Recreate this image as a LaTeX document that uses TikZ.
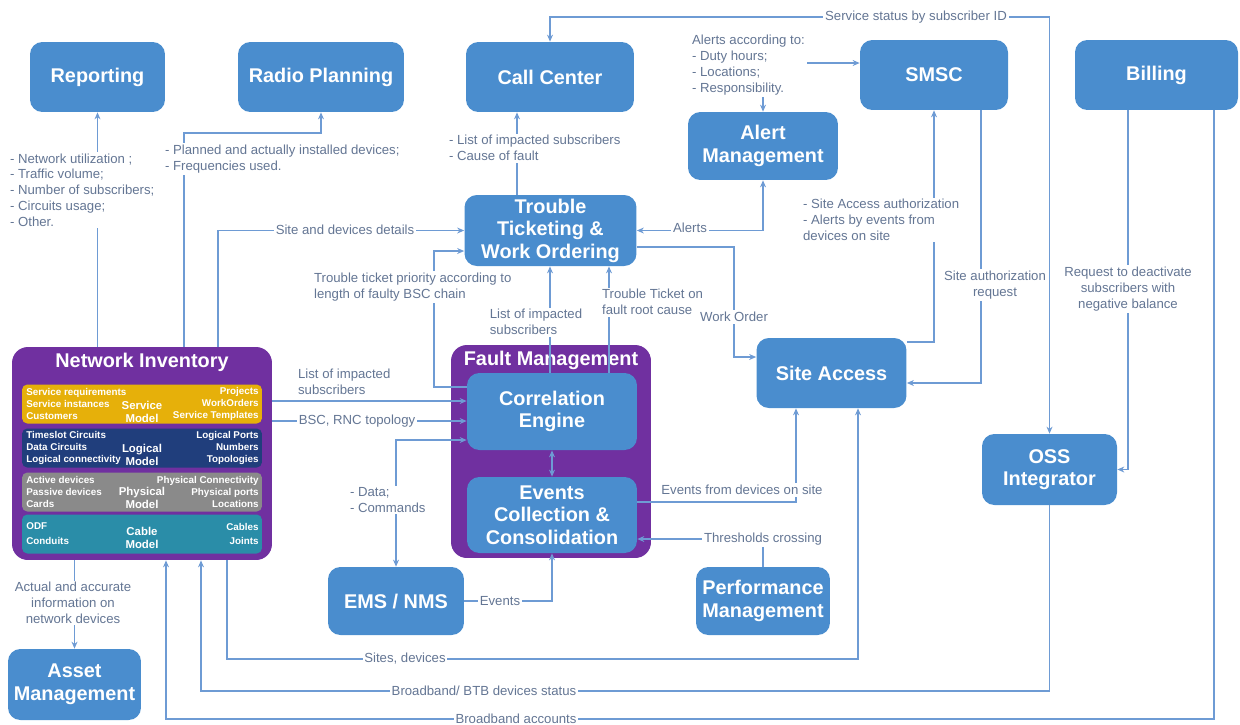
\documentclass[tikz,border=0pt]{standalone}
\usepackage{fontspec}
\setmainfont{Liberation Sans}
\usetikzlibrary{arrows.meta,calc,positioning}

\definecolor{boxblue}{RGB}{74,141,206}
\definecolor{fmpurple}{RGB}{112,48,160}
\definecolor{linec}{RGB}{110,155,212}
\definecolor{labc}{RGB}{100,118,148}
\definecolor{svcyel}{RGB}{230,176,10}
\definecolor{lognavy}{RGB}{32,62,124}
\definecolor{phygray}{RGB}{138,138,138}
\definecolor{cabteal}{RGB}{42,141,168}

\tikzset{
  box/.style={rectangle, rounded corners=7pt, fill=boxblue, text=white, font=\fontsize{11.3}{12.8}\selectfont\bfseries, align=center, inner sep=0pt, minimum height=1.4cm},
  groupbox/.style={rectangle, rounded corners=9pt, fill=fmpurple, inner sep=0pt},
  grouptitle/.style={text=white, font=\fontsize{11.3}{12.8}\selectfont\bfseries, inner sep=0pt},
  nilayer/.style={rectangle, rounded corners=3pt, inner sep=0pt, minimum width=4.8cm, minimum height=0.78cm},
  laytext/.style={text=white, font=\fontsize{5.6}{6.8}\selectfont\bfseries, inner sep=0pt},
  laytitle/.style={text=white, font=\fontsize{6.5}{7.2}\selectfont\bfseries, inner sep=0pt, align=center},
  conn/.style={draw=linec, line width=0.6pt, >={Stealth[length=4pt,width=3.4pt]}},
  lbl/.style={text=labc, font=\fontsize{7.5}{9}\selectfont, inner sep=1pt, align=left},
  lblw/.style={lbl, fill=white},
}

\begin{document}
\begin{tikzpicture}[x=0.02cm, y=-0.02cm]
    \useasboundingbox (0,0) rectangle (1240,724);

    % group boxes
    \node[groupbox, minimum width=5.2cm, minimum height=4.26cm] (netinv) at (142,453.5) {};
    \node[grouptitle] (netinvT) at (142,362) {Network Inventory};
    \node[groupbox, minimum width=4.0cm, minimum height=4.26cm] (faultm) at (551,451.5) {};
    \node[grouptitle] (faultmT) at (551,360) {Fault Management};

    % network inventory layers
    \node[nilayer, fill=svcyel] (svcmod) at (142,404) {};
    \node[laytext, anchor=west, align=left] at (26,404) {Service requirements\\Service instances\\Customers};
    \node[laytitle] at (142,412) {Service\\Model};
    \node[laytext, anchor=east, align=right] at (259,404) {Projects\\WorkOrders\\Service Templates};

    \node[nilayer, fill=lognavy] (logmod) at (142,448) {};
    \node[laytext, anchor=west, align=left] at (26,448) {Timeslot Circuits\\Data Circuits\\Logical connectivity};
    \node[laytitle] at (142,455) {Logical\\Model};
    \node[laytext, anchor=east, align=right] at (259,448) {Logical Ports\\Numbers\\Topologies};

    \node[nilayer, fill=phygray] (phymod) at (142,492) {};
    \node[laytext, anchor=west, align=left] at (26,492) {Active devices\\Passive devices\\Cards};
    \node[laytitle] at (142,498) {Physical\\Model};
    \node[laytext, anchor=east, align=right] at (259,492) {Physical Connectivity\\Physical ports\\Locations};

    \node[nilayer, fill=cabteal] (cabmod) at (142,534) {};
    \node[laytext, anchor=west, align=left] at (26,534) {ODF\\[1.7pt]Conduits};
    \node[laytitle] at (142,538) {Cable\\Model};
    \node[laytext, anchor=east, align=right] at (259,534) {Cables\\[1.7pt]Joints};

    % blue boxes
    \node[box, minimum width=2.7cm] (report) at (97.5,77) {Reporting};
    \node[box, minimum width=3.32cm] (radio) at (321,77) {Radio Planning};
    \node[box, minimum width=3.36cm] (callc) at (550,77) {Call Center};
    \node[box, minimum width=3.0cm, minimum height=1.36cm] (alertm) at (763,146) {Alert\\Management};
    \node[box, minimum width=2.96cm] (smsc) at (934,75) {SMSC};
    \node[box, minimum width=3.26cm] (billing) at (1156.5,75) {Billing};
    \node[box, minimum width=3.44cm, minimum height=1.42cm] (ttwo) at (550.5,230.5) {Trouble\\Ticketing \&\\Work Ordering};
    \node[box, minimum width=3.0cm] (siteacc) at (831.5,373) {Site Access};
    \node[box, minimum width=2.7cm, minimum height=1.42cm] (oss) at (1049.5,469.5) {OSS\\Integrator};
    \node[box, minimum width=3.4cm, minimum height=1.54cm] (correng) at (552,411.5) {Correlation\\Engine};
    \node[box, minimum width=3.4cm, minimum height=1.52cm] (evcoll) at (552,515) {Events\\Collection \&\\Consolidation};
    \node[box, minimum width=2.72cm, minimum height=1.36cm] (emsnms) at (396,601) {EMS / NMS};
    \node[box, minimum width=2.68cm, minimum height=1.36cm] (perfm) at (763,601) {Performance\\Management};
    \node[box, minimum width=2.66cm, minimum height=1.42cm] (assetm) at (74.5,684.5) {Asset\\Management};

    % turning points
    \coordinate (c-radio) at (184,133);
    \coordinate (c-site) at (218,230);
    \coordinate (c-cc) at (517,150);
    \coordinate (c-top) at (800,17);
    \coordinate (c-alert) at (763,63);
    \coordinate (c-wo) at (734,247);
    \coordinate (c-wo2) at (734,357);
    \coordinate (c-p1) at (434,387);
    \coordinate (c-p2) at (434,251);
    \coordinate (c-lis) at (550,320);
    \coordinate (c-root) at (609,300);
    \coordinate (c-l1) at (296,401);
    \coordinate (c-bsc) at (296,421);
    \coordinate (c-dc) at (396,440);
    \coordinate (c-ev) at (796,502);
    \coordinate (c-th) at (700,539);
    \coordinate (c-sa) at (934,342);
    \coordinate (c-sar) at (981,383);
    \coordinate (c-rd) at (1128,470);
    \coordinate (c-ba) at (1214,719);
    \coordinate (c-ba2) at (166,719);
    \coordinate (c-bb2) at (201,691);
    \coordinate (c-sd) at (227,659);
    \coordinate (c-sd2) at (858,659);

    % connectors
    \draw[conn,->] (netinv.north -| report.south) -- (report.south);
    \draw[conn,->] (netinv.north -| c-radio) -- (c-radio) -| (radio.south);
    \draw[conn,->] (netinv.north -| c-site) |- (ttwo.west);
    \draw[conn,->] (ttwo.north -| c-cc) -- (callc.south -| c-cc);
    \draw[conn,<->] (oss.north) |- (callc.north |- c-top) -- (callc.north);
    \draw[conn,<->] (alertm.north) |- (smsc.west |- c-alert);
    \draw[conn,<->] (ttwo.east) -| (alertm.south);
    \draw[conn,->] (ttwo.east |- c-wo) -- (c-wo) |- (siteacc.west |- c-wo2);
    \draw[conn,->] (correng.west |- c-p1) -- (c-p1) -- (c-p2) -- (ttwo.west |- c-p2);
    \draw[conn,->] (correng.north -| c-lis) -- (ttwo.south -| c-lis);
    \draw[conn,->] (correng.north -| c-root) -- (ttwo.south -| c-root);
    \draw[conn,->] (netinv.east |- c-l1) -- (correng.west |- c-l1);
    \draw[conn,->] (netinv.east |- c-bsc) -- (correng.west |- c-bsc);
    \draw[conn,<->] (correng.west |- c-dc) -| (emsnms.north);
    \draw[conn,<->] (correng.south) -- (evcoll.north);
    \draw[conn,->] (emsnms.east) -| (evcoll.south);
    \draw[conn,->] (evcoll.east |- c-ev) -| (siteacc.south -| c-ev);
    \draw[conn,->] (perfm.north) |- (evcoll.east |- c-th);
    \draw[conn,->] (siteacc.east |- c-sa) -| (smsc.south);
    \draw[conn,->] (smsc.south -| c-sar) |- (siteacc.east |- c-sar);
    \draw[conn,->] (billing.south -| c-rd) |- (oss.east);
    \draw[conn,->] (billing.south -| c-ba) -- (c-ba) -- (c-ba2) -- (netinv.south -| c-ba2);
    \draw[conn,->] (oss.south) |- (c-bb2) -- (netinv.south -| c-bb2);
    \draw[conn,->] (netinv.south -| c-sd) -- (c-sd) -- (c-sd2) -- (siteacc.south -| c-sd2);
    \draw[conn,->] (netinv.south -| assetm.north) -- (assetm.north);

    % connector labels
    \node[lblw, anchor=west] (l-rep) at (8,190) {- Network utilization ;\\- Traffic volume;\\- Number of subscribers;\\- Circuits usage;\\- Other.};
    \node[lblw, anchor=west] (l-radio) at (163,159) {- Planned and actually installed devices;\\- Frequencies used.};
    \node[lblw] (l-site) at (345,230) {Site and devices details};
    \node[lblw, anchor=west] (l-cc) at (447,148) {- List of impacted subscribers\\- Cause of fault};
    \node[lblw] (l-top) at (916,17) {Service status by subscriber ID};
    \node[lblw, anchor=west] (l-alert) at (690,65) {Alerts according to:\\- Duty hours;\\- Locations;\\- Responsibility.};
    \node[lblw] (l-alerts) at (690,228) {Alerts};
    \node[lblw, anchor=west] (l-prio) at (312,287) {Trouble ticket priority according to\\length of faulty BSC chain};
    \node[lblw] (l-lis) at (536,322) {List of impacted\\subscribers};
    \node[lblw, anchor=west] (l-root) at (600,302) {Trouble Ticket on\\fault root cause};
    \node[lblw] (l-wo) at (734,317) {Work Order};
    \node[lbl, anchor=west] (l-l1) at (296,382) {List of impacted\\subscribers};
    \node[lblw] (l-bsc) at (357,421) {BSC, RNC topology};
    \node[lblw, anchor=west] (l-dc) at (348,500) {- Data;\\- Commands};
    \node[lblw] (l-ev) at (500,601) {Events};
    \node[lblw] (l-evs) at (742,490) {Events from devices on site};
    \node[lblw] (l-th) at (763,539) {Thresholds crossing};
    \node[lblw, anchor=west] (l-sa) at (801,220) {- Site Access authorization\\- Alerts by events from\\devices on site};
    \node[lblw, align=center] (l-sar) at (995,285) {Site authorization\\request};
    \node[lblw, align=center] (l-rd) at (1128,289) {Request to deactivate\\subscribers with\\negative balance};
    \node[lblw] (l-ba) at (516,719) {Broadband accounts};
    \node[lblw] (l-bb) at (484,691) {Broadband/ BTB devices status};
    \node[lblw] (l-sd) at (405,659) {Sites, devices};
    \node[lblw, align=center] (l-am) at (73,603) {Actual and accurate\\information on\\network devices};
\end{tikzpicture}
\end{document}
